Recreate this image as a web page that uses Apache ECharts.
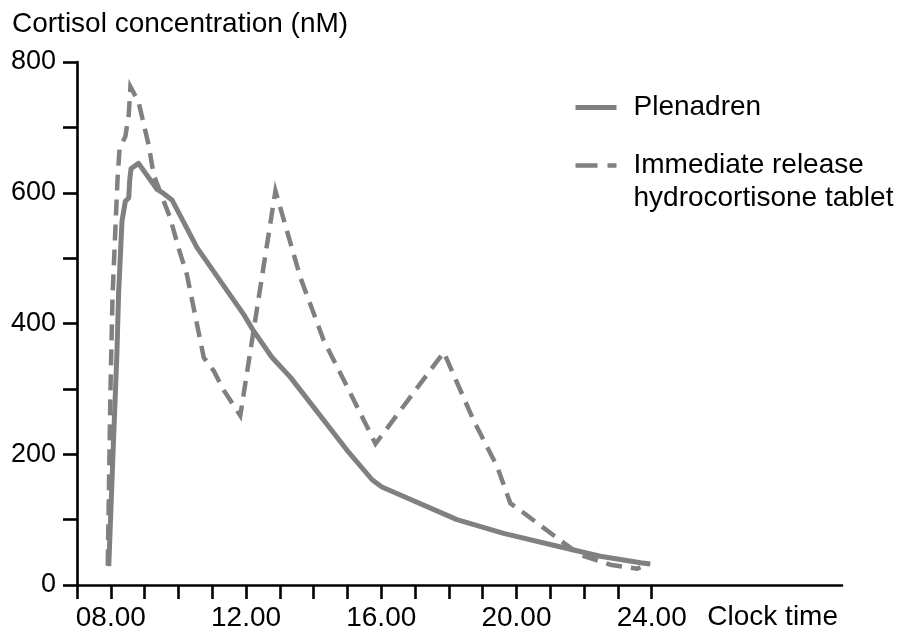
<!DOCTYPE html>
<html>
<head>
<meta charset="utf-8">
<script src="https://cdn.jsdelivr.net/npm/echarts@6/dist/echarts.min.js"></script>
<style>
html,body{margin:0;padding:0;background:#fff;}
#chart{width:916px;height:632px;}
</style>
</head>
<body>
<div id="chart"></div>
<script>
// ---- data (clock time in hours, cortisol in nM) ----
const plenadrenTimes  = [7.94, 8.08, 8.18, 8.23, 8.33, 8.43, 8.53, 8.56, 8.6, 8.82, 9.37, 9.56, 9.81, 10.55, 11.93, 12.22, 12.77, 13.31, 14.99, 15.73, 16.02, 18.24, 19.62, 21.0, 22.48, 23.67, 23.96];
const plenadrenValues = [29, 221, 353, 445, 556, 587, 592, 620, 637, 645, 605, 599, 589, 516, 414, 389, 348, 318, 206, 161, 150, 100, 79, 62, 44, 34, 32];

const tabletTimes  = [7.91, 7.99, 8.05, 8.12, 8.2, 8.26, 8.43, 8.53, 8.58, 8.82, 9.12, 9.27, 9.76, 10.0, 10.25, 10.75, 11.04, 11.34, 11.83, 12.87, 13.61, 14.3, 15.09, 15.83, 17.85, 18.73, 19.43, 19.82, 20.17, 21.2, 21.89, 22.78, 23.57, 23.67];
const tabletValues = [30, 298, 440, 526, 622, 668, 686, 719, 762, 739, 673, 627, 561, 516, 475, 348, 328, 298, 259, 603, 470, 374, 293, 216, 356, 252, 181, 125, 112, 72, 46, 31, 25, 27];

const seriesNames = ['Plenadren', 'Immediate release hydrocortisone tablet'];
const xTickHours  = [7, 8, 9, 10, 11, 12, 13, 14, 15, 16, 17, 18, 19, 20, 21, 22, 23, 24];
const xLabelHours = [8, 12, 16, 20, 24];
const yLabelValues = [0, 200, 400, 600, 800];

const yTitle = 'Cortisol concentration (nM)';
const xTitle = 'Clock time';

const FONT = '"Liberation Sans", Arial, Helvetica, sans-serif';
const GRAY = '#808080';

function pairs(t, v) { return t.map((x, i) => [x, v[i]]); }

const chart = echarts.init(document.getElementById('chart'), null, {renderer: 'canvas'});
chart.setOption({
  animation: false,
  backgroundColor: '#fff',
  textStyle: {fontFamily: FONT, color: '#000'},
  title: {
    text: yTitle,
    left: 7, top: 5,
    textStyle: {fontFamily: FONT, fontSize: 28, fontWeight: 'normal', color: '#000'}
  },
  grid: {left: 77, right: 74, top: 62, bottom: 46, containLabel: false},
  legend: {
    orient: 'vertical',
    left: 573, top: 91,
    itemWidth: 41, itemHeight: 14,
    itemGap: -8,
    padding: 0,
    itemStyle: {opacity: 0},
    data: [
      {name: seriesNames[0], lineStyle: {color: GRAY, width: 5, type: 'solid'}},
      {name: seriesNames[1], lineStyle: {color: GRAY, width: 4.5, type: [22, 10]}}
    ],
    formatter: function (name) {
      return name === seriesNames[1] ? '\nImmediate release\nhydrocortisone tablet' : name;
    },
    textStyle: {fontFamily: FONT, fontSize: 28, lineHeight: 33, color: '#000', padding: [0, 0, 0, 12]}
  },
  xAxis: {
    type: 'value',
    min: 7, max: 29.63,
    name: xTitle,
    nameLocation: 'end',
    nameGap: -4,
    nameTextStyle: {fontFamily: FONT, fontSize: 28, color: '#000', align: 'right', verticalAlign: 'top', padding: [18, 0, 0, 0]},
    axisLine: {show: true, lineStyle: {color: '#000', width: 2.6}},
    axisTick: {show: true, length: 14, lineStyle: {color: '#000', width: 2.6}, customValues: xTickHours},
    axisLabel: {
      show: true, margin: 19, fontFamily: FONT, fontSize: 28, color: '#000',
      customValues: xLabelHours,
      formatter: function (v) { return (v < 10 ? '0' : '') + v + '.00'; }
    },
    splitLine: {show: false}
  },
  yAxis: {
    type: 'value',
    min: 0, max: 800, interval: 100,
    axisLine: {show: true, lineStyle: {color: '#000', width: 2.6}},
    axisTick: {show: true, length: 14, lineStyle: {color: '#000', width: 2.6}},
    axisLabel: {
      show: true, margin: 21, fontFamily: FONT, fontSize: 27, color: '#000',
      customValues: yLabelValues
    },
    splitLine: {show: false}
  },
  series: [
    {
      name: seriesNames[0],
      type: 'line',
      data: pairs(plenadrenTimes, plenadrenValues),
      symbol: 'none',
      lineStyle: {color: GRAY, width: 5, cap: 'butt', join: 'round'},
      itemStyle: {color: GRAY},
      z: 3
    },
    {
      name: seriesNames[1],
      type: 'line',
      data: pairs(tabletTimes, tabletValues),
      symbol: 'none',
      lineStyle: {color: GRAY, width: 4.5, type: [16, 9], cap: 'butt', join: 'miter'},
      itemStyle: {color: GRAY},
      z: 2
    }
  ]
});
</script>
</body>
</html>
